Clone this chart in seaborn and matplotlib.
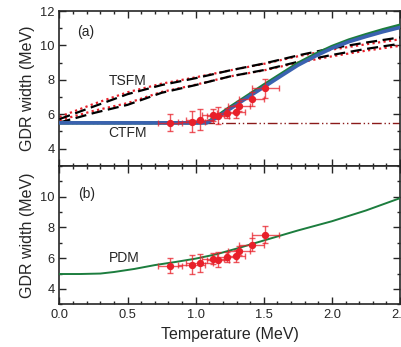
import numpy as np
import pandas as pd
import matplotlib
matplotlib.use("Agg")
import matplotlib.pyplot as plt
import seaborn as sns
from matplotlib.ticker import MultipleLocator, FixedLocator

# ---- data ----
T_exp = [0.81, 0.97, 1.03, 1.125, 1.165, 1.23, 1.295, 1.32, 1.41, 1.51]
W_exp = [5.52, 5.58, 5.68, 5.97, 5.91, 6.07, 6.16, 6.49, 6.88, 7.52]
T_err = [0.09, 0.10, 0.10, 0.08, 0.08, 0.07, 0.07, 0.08, 0.09, 0.10]
W_err = [0.50, 0.60, 0.60, 0.35, 0.50, 0.30, 0.40, 0.30, 0.40, 0.55]

T_grid = [0.0, 0.25, 0.5, 0.75, 1.0, 1.25, 1.5, 1.75, 2.0, 2.25, 2.5]
tsfm_up_black = [5.72, 6.45, 7.17, 7.70, 8.10, 8.55, 8.95, 9.42, 9.84, 10.17, 10.47]
tsfm_up_red = [5.85, 6.60, 7.28, 7.78, 8.15, 8.55, 8.93, 9.37, 9.76, 10.07, 10.36]
tsfm_lo_black = [5.52, 6.07, 6.55, 7.25, 7.70, 8.20, 8.57, 9.05, 9.45, 9.80, 10.10]
tsfm_lo_red = [5.65, 6.20, 6.65, 7.30, 7.72, 8.20, 8.55, 9.00, 9.37, 9.70, 9.98]

T_ctfm = [0.0, 0.5, 1.0, 1.08, 1.15, 1.25, 1.375, 1.5, 1.625, 1.75, 1.875, 2.0, 2.125, 2.25, 2.375, 2.5]
W_ctfm_blue = [5.5, 5.5, 5.5, 5.5, 5.78, 6.30, 6.95, 7.58, 8.22, 8.85, 9.37, 9.84, 10.22, 10.52, 10.80, 11.05]
W_ctfm_green = [5.5, 5.5, 5.5, 5.52, 5.85, 6.40, 7.05, 7.70, 8.33, 8.96, 9.48, 9.94, 10.32, 10.63, 10.92, 11.18]
T_flat = [0.0, 2.5]
W_flat = [5.5, 5.5]

T_pdm = [0.0, 0.15, 0.3, 0.4, 0.55, 0.7, 0.85, 1.0, 1.15, 1.3, 1.5, 1.75, 2.0, 2.25, 2.5]
W_pdm = [4.97, 4.97, 5.0, 5.1, 5.3, 5.55, 5.75, 5.97, 6.25, 6.62, 7.15, 7.8, 8.4, 9.1, 9.9]

# ---- style ----
sns.set_style("ticks")
plt.rcParams['font.family'] = ['Liberation Sans', 'DejaVu Sans']
plt.rcParams['axes.linewidth'] = 1.2

fig = plt.figure(figsize=(4.02, 3.47), dpi=100)
left, right = 0.148, 0.995
ax1 = fig.add_axes([left, 0.522, right - left, 0.968 - 0.522])
ax2 = fig.add_axes([left, 0.123, right - left, 0.522 - 0.123], sharex=ax1)

RED = "#e8202a"
BLUE = "#3a62b0"
GREEN = "#1c7d3e"

# top panel
sns.lineplot(x=T_flat, y=W_flat, ax=ax1, color="#8b1a1a", lw=1.0,
             linestyle=(0, (7, 2, 1, 2, 1, 2)), zorder=1)
for blk, red in [(tsfm_up_black, tsfm_up_red), (tsfm_lo_black, tsfm_lo_red)]:
    sns.lineplot(x=T_grid, y=red, ax=ax1, color=RED, lw=1.6,
                 linestyle=(0, (1, 1.5)), zorder=2)
    sns.lineplot(x=T_grid, y=blk, ax=ax1, color="black", lw=1.6,
                 linestyle=(0, (5, 2.5)), zorder=3)
sns.lineplot(x=T_ctfm, y=W_ctfm_green, ax=ax1, color=GREEN, lw=2.4, zorder=4)
sns.lineplot(x=T_ctfm, y=W_ctfm_blue, ax=ax1, color=BLUE, lw=2.6, zorder=5)

# bottom panel
sns.lineplot(x=T_pdm, y=W_pdm, ax=ax2, color=GREEN, lw=1.4, zorder=3)

for ax in (ax1, ax2):
    ax.errorbar(T_exp, W_exp, xerr=T_err, yerr=W_err, fmt="none",
                ecolor=RED, elinewidth=1.0, capsize=2, capthick=1.0,
                alpha=0.75, zorder=6)
    sns.scatterplot(x=T_exp, y=W_exp, ax=ax, color=RED, s=28,
                    edgecolor=RED, linewidth=0, zorder=7)
    ax.set_xlim(0, 2.5)
    ax.set_ylim(3, 12)
    ax.xaxis.set_major_locator(MultipleLocator(0.5))
    ax.xaxis.set_minor_locator(MultipleLocator(0.1))
    ax.yaxis.set_minor_locator(MultipleLocator(1))
    ax.tick_params(which="both", direction="in", top=True, right=True,
                   labelsize=9.3, width=1.0)
    ax.tick_params(which="major", length=5)
    ax.tick_params(which="minor", length=2.5)
    ax.set_ylabel("GDR width (MeV)", fontsize=11.5)
    for s in ax.spines.values():
        s.set_visible(True)

ax1.yaxis.set_major_locator(FixedLocator([4, 6, 8, 10, 12]))
ax2.yaxis.set_major_locator(FixedLocator([4, 6, 8, 10]))
ax1.tick_params(labelbottom=False)
ax1.set_xlabel("")
ax2.set_xticks([0.0, 0.5, 1.0, 1.5, 2.0, 2.5])
ax2.set_xticklabels(["0.0", "0.5", "1.0", "1.5", "2.0", "2.5"])
ax2.set_xlabel("Temperature (MeV)", fontsize=11.5)

ax1.text(0.19, 10.8, "(a)", fontsize=10, ha="center", va="center")
ax1.text(0.5, 7.94, "TSFM", fontsize=10, ha="center", va="center")
ax1.text(0.5, 4.93, "CTFM", fontsize=10, ha="center", va="center")
ax2.text(0.2, 10.18, "(b)", fontsize=10, ha="center", va="center")
ax2.text(0.475, 5.98, "PDM", fontsize=10, ha="center", va="center")

fig.savefig("out.png", dpi=100)
